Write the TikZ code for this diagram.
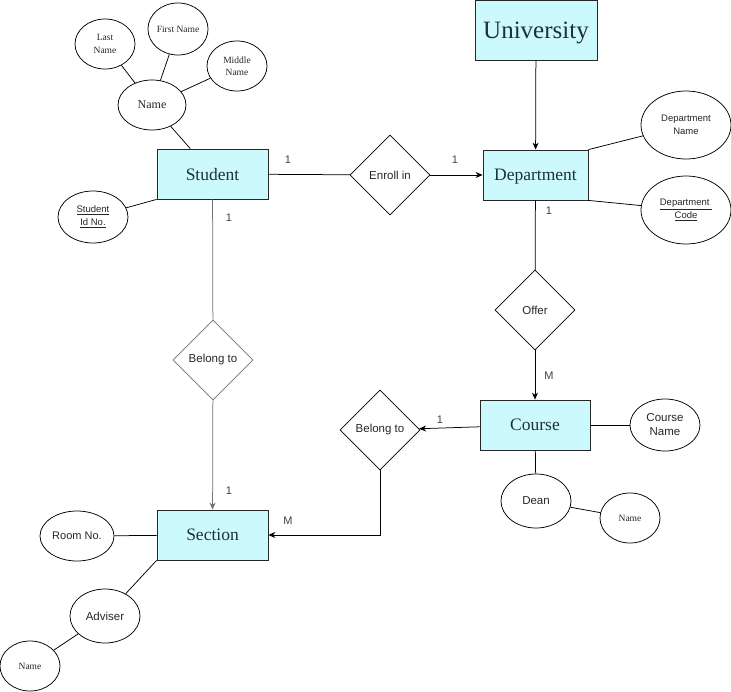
\documentclass[tikz,border=0pt]{standalone}
\usepackage{fontspec}
\setmainfont{Liberation Serif}
\setsansfont{Liberation Sans}
\usetikzlibrary{shapes.geometric,arrows.meta}
\definecolor{entfill}{HTML}{CCFAFC}
\definecolor{enttext}{HTML}{1E3236}
\definecolor{grayline}{HTML}{707070}
\begin{document}
\begin{tikzpicture}[x=1pt,y=-1pt,
  entity/.style={draw=black!85, fill=entfill, line width=0.8pt, inner sep=0pt, text depth=0pt, text=enttext, font=\rmfamily\fontsize{17.5}{20}\selectfont},
  attr/.style={ellipse, draw, line width=0.75pt, inner sep=0pt, align=center, text=black!85, font=\sffamily\fontsize{11.5}{14}\selectfont},
  sattr/.style={attr, font=\rmfamily\fontsize{9.5}{12.5}\selectfont},
  tattr/.style={attr, font=\sffamily\fontsize{9.5}{13}\selectfont},
  rel/.style={diamond, draw, line width=0.75pt, minimum width=80pt, minimum height=80pt, inner sep=0pt, text=black!85, font=\sffamily\fontsize{11.5}{14}\selectfont},
  lbl/.style={font=\sffamily\fontsize{11}{13}\selectfont, text=black!75},
  conn/.style={line width=0.75pt},
  arr/.style={conn, -{Stealth[length=7pt,width=6pt]}}]
\useasboundingbox (0,0) rectangle (731,691);

% entities
\node[entity, minimum width=122pt, minimum height=60pt, font=\rmfamily\fontsize{25}{28}\selectfont] (univ) at (536,30) {University};
\node[entity, minimum width=105pt, minimum height=50pt] (dept) at (535.5,175) {Department};
\node[entity, minimum width=111pt, minimum height=50pt] (student) at (212.5,174) {Student};
\node[entity, minimum width=110pt, minimum height=50pt] (course) at (535,425) {Course};
\node[entity, minimum width=111pt, minimum height=50pt] (section) at (212.5,535) {Section};

% relationships
\node[rel] (enroll) at (390,175) {Enroll in};
\node[rel] (offer) at (535,310) {Offer};
\node[rel, draw=grayline] (belong1) at (213,360) {Belong to};
\node[rel] (belong2) at (380,430) {Belong to};

% attributes
\node[sattr, minimum width=60pt, minimum height=50pt] (lname) at (105,44) {Last\\Name};
\node[sattr, minimum width=60pt, minimum height=52pt] (fname) at (178,29) {First Name};
\node[sattr, minimum width=60pt, minimum height=50pt] (mname) at (237,66) {Middle\\Name};
\node[sattr, minimum width=68pt, minimum height=50pt, font=\rmfamily\fontsize{12}{14}\selectfont] (name) at (152,105) {Name};
\node[tattr, minimum width=70pt, minimum height=52pt] (sid) at (93,217) {\underline{Student}\\\underline{Id No.}};
\node[tattr, minimum width=90pt, minimum height=68pt] (dname) at (686,125) {Department\\Name};
\node[tattr, minimum width=90pt, minimum height=68pt] (dcode) at (686,210) {\underline{Department\ }\\\underline{Code}};
\node[attr, minimum width=70pt, minimum height=52pt] (cname) at (665,425) {Course\\Name};
\node[attr, minimum width=70pt, minimum height=54pt] (dean) at (536,501) {Dean};
\node[sattr, minimum width=60pt, minimum height=50pt] (deanname) at (630,518) {Name};
\node[attr, minimum width=74pt, minimum height=50pt, font=\sffamily\fontsize{11}{13}\selectfont] (room) at (77,536) {Room No.};
\node[attr, minimum width=70pt, minimum height=54pt] (adviser) at (105,616) {Adviser};
\node[sattr, minimum width=60pt, minimum height=50pt] (advname) at (30,666) {Name};

% attribute links
\draw[conn] (lname) -- (name);
\draw[conn] (fname) -- (name);
\draw[conn] (mname) -- (name);
\draw[conn] (name) -- (student);
\draw[conn] (sid) -- (student.south west);
\draw[conn] (dept.north east) -- (dname);
\draw[conn] (dept.south east) -- (dcode);
\draw[conn] (course) -- (cname);
\draw[conn] (course) -- (dean);
\draw[conn] (dean) -- (deanname);
\draw[conn] (room) -- (section);
\draw[conn] (section.south west) -- (adviser);
\draw[conn] (adviser) -- (advname);

% relationship links
\draw[conn] (student) -- (enroll);
\draw[arr] (enroll) -- (dept);
\draw[arr] (univ) -- (dept);
\draw[conn] (dept) -- (offer);
\draw[arr] (offer) -- (course);
\draw[arr] (course) -- (belong2);
\draw[arr] (belong2.south) |- (section.east);
\draw[conn, draw=grayline] (student) -- (belong1);
\draw[arr, draw=grayline] (belong1) -- (section);

% cardinalities
\node[lbl] (c1) at (288,160) {1};
\node[lbl] (c2) at (455,160) {1};
\node[lbl] (c3) at (549,211) {1};
\node[lbl] (c4) at (549,376) {M};
\node[lbl] (c5) at (229,218) {1};
\node[lbl] (c6) at (229,491) {1};
\node[lbl] (c7) at (440,420) {1};
\node[lbl] (c8) at (288,521) {M};
\end{tikzpicture}
\end{document}
